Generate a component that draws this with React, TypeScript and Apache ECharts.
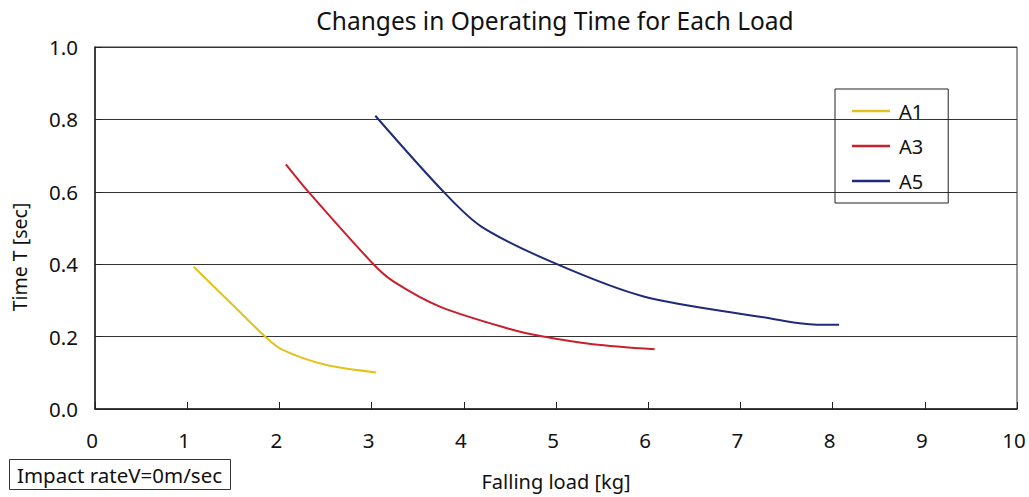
import React, { useEffect, useRef } from "react";
import * as echarts from "echarts";

const seriesNames = ["A1", "A3", "A5"];
const seriesColors = ["#e2c21c", "#c8202c", "#1f2a7a"];
const a1Data: [number, number][] = [
  [1.07, 0.393], [1.5, 0.286], [1.845, 0.2], [2.03, 0.164], [2.5, 0.122], [3.05, 0.101],
];
const a3Data: [number, number][] = [
  [2.07, 0.676], [2.315, 0.6], [3.02, 0.4], [3.24, 0.352], [3.74, 0.283], [4.5, 0.221],
  [4.86, 0.2], [5.4, 0.179], [6.07, 0.165],
];
const a5Data: [number, number][] = [
  [3.04, 0.81], [3.78, 0.6], [4.19, 0.504], [5.01, 0.4], [5.95, 0.311], [7.21, 0.255],
  [7.83, 0.233], [8.07, 0.233],
];
const allData = [a1Data, a3Data, a5Data];

const FONT = "'Noto Sans', 'DejaVu Sans', sans-serif";

export default function App() {
  const ref = useRef<HTMLDivElement>(null);
  useEffect(() => {
    document.body.style.margin = "0";
    const chart = echarts.init(ref.current!, null, { renderer: "svg" });
    chart.setOption({
      animation: false,
      backgroundColor: "#ffffff",
      textStyle: { fontFamily: FONT, color: "#111" },
      title: [
        {
          text: "Changes in Operating Time for Each Load",
          left: 550,
          textAlign: "center",
          top: 3,
          textStyle: { fontFamily: FONT, fontSize: 24.5, fontWeight: "normal", color: "#111" },
        },
        {
          text: "Impact rateV=0m/sec",
          left: 9,
          top: 459,
          padding: [5, 9, 5, 8],
          borderWidth: 1,
          borderColor: "#333",
          textStyle: { fontFamily: FONT, fontSize: 20.5, fontWeight: "normal", color: "#111" },
        },
      ],
      graphic: [
        {
          type: "text",
          x: 19,
          y: 257,
          rotation: Math.PI / 2,
          style: {
            text: "Time T [sec]",
            fontFamily: FONT,
            fontSize: 19.5,
            fill: "#111",
            align: "center",
            verticalAlign: "middle",
          },
        },
      ],
      legend: {
        orient: "vertical",
        left: 835,
        top: 89,
        padding: [11, 25, 11, 17],
        borderColor: "#222",
        borderWidth: 1,
        icon: "rect",
        itemWidth: 38,
        itemHeight: 2.5,
        itemGap: 13,
        textStyle: { fontFamily: FONT, fontSize: 20, color: "#111", lineHeight: 22, padding: [0, 0, 0, 4] },
        data: seriesNames,
      },
      grid: {
        left: 95,
        right: 12,
        top: 47,
        bottom: 88,
        show: true,
        borderColor: "#333",
        borderWidth: 1,
      },
      xAxis: {
        type: "value",
        min: 0,
        max: 10,
        interval: 1,
        name: "Falling load [kg]",
        nameLocation: "middle",
        nameGap: 62,
        nameTextStyle: { fontFamily: FONT, fontSize: 20, color: "#111" },
        axisLine: { show: true, lineStyle: { color: "#222", width: 1.5 } },
        axisTick: { show: true, inside: true, length: 7, lineStyle: { color: "#222" } },
        axisLabel: { fontFamily: FONT, fontSize: 20.5, color: "#111", margin: 20, padding: [0, 6, 0, 0] },
        splitLine: { show: false },
      },
      yAxis: {
        type: "value",
        min: 0,
        max: 1,
        interval: 0.2,
        axisLine: { show: true, lineStyle: { color: "#222", width: 1.5 } },
        axisTick: { show: true, inside: true, length: 7, lineStyle: { color: "#222" } },
        axisLabel: {
          fontFamily: FONT,
          fontSize: 20.5,
          color: "#111",
          margin: 17,
          formatter: (v: number) => v.toFixed(1),
        },
        splitLine: { show: true, lineStyle: { color: "#333", width: 1 } },
      },
      series: seriesNames.map((name, i) => ({
        name,
        type: "line",
        data: allData[i],
        smooth: 0.3,
        showSymbol: false,
        symbol: "none",
        color: seriesColors[i],
        lineStyle: { color: seriesColors[i], width: 2 },
      })),
    });
    return () => chart.dispose();
  }, []);
  return <div ref={ref} style={{ width: 1029, height: 497 }} />;
}
